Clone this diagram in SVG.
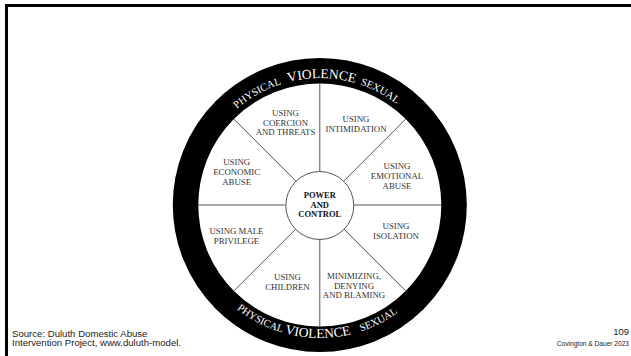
<svg xmlns="http://www.w3.org/2000/svg" width="631" height="356" viewBox="0 0 631 356">
  <style>
    .frame { fill: none; stroke: #000; stroke-width: 3; }
    .spoke { stroke: #555; stroke-width: 1; fill: none; }
    .hub { fill: #fff; stroke: #555; stroke-width: 1; }
    .ring { fill: none; stroke: #000; stroke-width: 25.5; }
    .lbl { font-family: "Liberation Serif", "Times New Roman", serif; font-size: 8.8px; fill: #333; text-anchor: middle; }
    .hubtxt { font-family: "Liberation Serif", "Times New Roman", serif; font-size: 8.5px; font-weight: bold; fill: #111; text-anchor: middle; }
    .rim { font-family: "Liberation Serif", "Times New Roman", serif; fill: #fff; text-anchor: middle; }
    .big { font-size: 13.5px; }
    .small { font-size: 10.5px; }
    .note { font-family: "Liberation Sans", Arial, sans-serif; fill: #222; }
  </style>
  <defs>
    <path id="arcTop" d="M 192.8 205 A 127 127 0 0 1 446.8 205"/>
    <path id="arcBottom" d="M 186.8 205 A 133 133 0 0 0 452.8 205"/>
  </defs>

  <rect width="631" height="356" fill="#fff"/>
  <polyline class="frame" points="6.5,356 6.5,5.5 631,5.5"/>

  <!-- spokes between hub and rim -->
  <g id="connectors">
    <line class="spoke" x1="319.8" y1="171" x2="319.8" y2="83.5"/>
    <line class="spoke" x1="319.8" y1="239" x2="319.8" y2="326.5"/>
    <line class="spoke" x1="285.8" y1="205" x2="198.3" y2="205"/>
    <line class="spoke" x1="353.8" y1="205" x2="441.3" y2="205"/>
    <line class="spoke" x1="295.8" y1="181" x2="233.9" y2="119.1"/>
    <line class="spoke" x1="343.8" y1="181" x2="405.7" y2="119.1"/>
    <line class="spoke" x1="295.8" y1="229" x2="233.9" y2="290.9"/>
    <line class="spoke" x1="343.8" y1="229" x2="405.7" y2="290.9"/>
  </g>

  <!-- outer rim -->
  <g id="rim">
    <circle class="ring" cx="319.8" cy="205" r="134.25"/>
    <text class="rim small"><textPath href="#arcTop" startOffset="33.8%">PHYSICAL</textPath></text>
    <text class="rim big"><textPath href="#arcTop" startOffset="50.5%">VIOLENCE</textPath></text>
    <text class="rim small"><textPath href="#arcTop" startOffset="65.5%">SEXUAL</textPath></text>
    <text class="rim small"><textPath href="#arcBottom" startOffset="34.7%">PHYSICAL</textPath></text>
    <text class="rim big"><textPath href="#arcBottom" startOffset="49.5%">VIOLENCE</textPath></text>
    <text class="rim small"><textPath href="#arcBottom" startOffset="65%">SEXUAL</textPath></text>
  </g>

  <g id="hub">
    <circle class="hub" cx="319.8" cy="205.5" r="34"/>
    <text class="hubtxt" x="319.8" y="198">POWER</text>
    <text class="hubtxt" x="319.8" y="207.5">AND</text>
    <text class="hubtxt" x="319.8" y="217">CONTROL</text>
  </g>

  <g id="coercion">
    <text class="lbl" x="285.5" y="116">USING</text>
    <text class="lbl" x="285.5" y="125.5">COERCION</text>
    <text class="lbl" x="285.5" y="135">AND THREATS</text>
  </g>
  <g id="intimidation">
    <text class="lbl" x="356" y="122.2">USING</text>
    <text class="lbl" x="356" y="131.6">INTIMIDATION</text>
  </g>
  <g id="economic">
    <text class="lbl" x="236.7" y="165.2">USING</text>
    <text class="lbl" x="236.7" y="175.2">ECONOMIC</text>
    <text class="lbl" x="236.7" y="185.2">ABUSE</text>
  </g>
  <g id="emotional">
    <text class="lbl" x="397" y="168.9">USING</text>
    <text class="lbl" x="397" y="178.9">EMOTIONAL</text>
    <text class="lbl" x="397" y="188.9">ABUSE</text>
  </g>
  <g id="privilege">
    <text class="lbl" x="236.5" y="233.5">USING MALE</text>
    <text class="lbl" x="236.5" y="243.5">PRIVILEGE</text>
  </g>
  <g id="isolation">
    <text class="lbl" x="396" y="228.5">USING</text>
    <text class="lbl" x="396" y="238.5">ISOLATION</text>
  </g>
  <g id="children">
    <text class="lbl" x="287.5" y="280.2">USING</text>
    <text class="lbl" x="287.5" y="290.2">CHILDREN</text>
  </g>
  <g id="minimizing">
    <text class="lbl" x="354" y="279.2">MINIMIZING,</text>
    <text class="lbl" x="354" y="288.6">DENYING</text>
    <text class="lbl" x="354" y="298.2">AND BLAMING</text>
  </g>

  <text class="note" x="12" y="336.5" font-size="9.6">Source: Duluth Domestic Abuse</text>
  <text class="note" x="12" y="346" font-size="9.6">Intervention Project, www.duluth-model.</text>
  <text class="note" x="629" y="334.8" font-size="9.5" text-anchor="end">109</text>
  <text class="note" x="629" y="346" font-size="6.6" text-anchor="end">Covington &amp; Dauer 2023</text>
</svg>
